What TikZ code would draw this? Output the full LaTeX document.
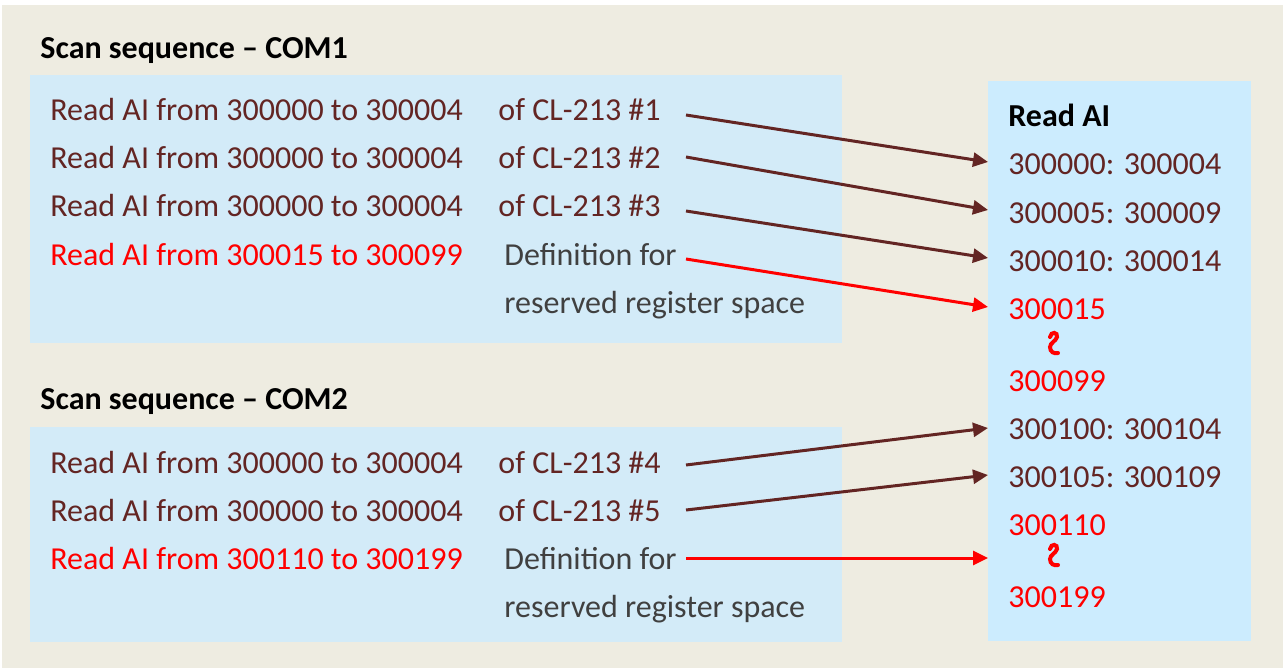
\documentclass[tikz,border=0pt]{standalone}
\usepackage{fontspec}
\setmainfont{Carlito}
\usetikzlibrary{arrows.meta}
\definecolor{bgbeige}{HTML}{EEECE1}
\definecolor{boxblue}{HTML}{D3EBF8}
\definecolor{rboxblue}{HTML}{CCECFE}
\definecolor{brown}{HTML}{632523}
\definecolor{graytxt}{HTML}{404040}
\definecolor{redtxt}{HTML}{FF0000}
\tikzset{
  txt/.style={anchor=base west, inner sep=0pt, font=\fontsize{16}{19}\selectfont},
  ttl/.style={txt, font=\fontsize{16}{19}\selectfont\bfseries, text=black},
  br/.style={txt, text=brown},
  gr/.style={txt, text=graytxt},
  rd/.style={txt, text=redtxt},
  arr/.style={line width=1.5pt, -{Triangle[length=7.5pt,width=7pt]}},
  brarr/.style={arr, draw=brown},
  rdarr/.style={arr, draw=redtxt},
  squig/.style={draw=redtxt, line width=2pt, line cap=round},
}
\begin{document}
\begin{tikzpicture}[x=0.5pt,y=-0.5pt]
\useasboundingbox (0,0) rectangle (1283,668);
\fill[white] (0,0) rectangle (1283,668);
\fill[bgbeige] (2,5) rectangle (1283,668);
\fill[boxblue] (30,75) rectangle (842,343);
\fill[boxblue] (30,427) rectangle (842,642);
\fill[rboxblue] (988,81) rectangle (1251,641);

% titles
\node[ttl] (t1) at (40,59) {Scan sequence -- COM1};
\node[ttl] (t2) at (40,409) {Scan sequence -- COM2};

% COM1 rows
\node[br] (l1) at (50,121) {Read AI from 300000 to 300004};
\node[br] (c1) at (498,121) {of CL-213 \#1};
\node[br] (l2) at (50,169) {Read AI from 300000 to 300004};
\node[br] (c2) at (498,169) {of CL-213 \#2};
\node[br] (l3) at (50,217) {Read AI from 300000 to 300004};
\node[br] (c3) at (498,217) {of CL-213 \#3};
\node[rd] (l4) at (50,265) {Read AI from 300015 to 300099};
\node[gr] (c4) at (504,265) {Definition for};
\node[gr] (c4b) at (504,313) {reserved register space};

% COM2 rows
\node[br] (m1) at (50,473) {Read AI from 300000 to 300004};
\node[br] (d1) at (498,473) {of CL-213 \#4};
\node[br] (m2) at (50,521) {Read AI from 300000 to 300004};
\node[br] (d2) at (498,521) {of CL-213 \#5};
\node[rd] (m3) at (50,569) {Read AI from 300110 to 300199};
\node[gr] (d3) at (504,569) {Definition for};
\node[gr] (d3b) at (504,617) {reserved register space};

% right box
\node[ttl] (rt) at (1008,127) {Read AI};
\node[br] (r1) at (1008,175) {300000: 300004};
\node[br] (r2) at (1008,223) {300005: 300009};
\node[br] (r3) at (1008,271) {300010: 300014};
\node[rd] (r4) at (1008,319) {300015};
\node[rd] (r5) at (1008,391) {300099};
\node[br] (r6) at (1008,439) {300100: 300104};
\node[br] (r7) at (1008,487) {300105: 300109};
\node[rd] (r8) at (1008,535) {300110};
\node[rd] (r9) at (1008,607) {300199};

\draw[squig] (1050,337) .. controls (1051,331) and (1058,332) .. (1057,337)
  .. controls (1056,341) and (1050,343) .. (1050,347)
  .. controls (1050,352) and (1054,354) .. (1058,353);
\draw[squig] (1050,549) .. controls (1051,543) and (1058,544) .. (1057,549)
  .. controls (1056,553) and (1050,555) .. (1050,559)
  .. controls (1050,564) and (1054,566) .. (1058,565);

% connector end points
\coordinate (s1) at (686,115); \coordinate (e1) at (988,162);
\coordinate (s2) at (686,157); \coordinate (e2) at (988,210);
\coordinate (s3) at (686,211); \coordinate (e3) at (988,258);
\coordinate (s4) at (686,259); \coordinate (e4) at (988,307);
\coordinate (s5) at (686,465); \coordinate (e5) at (988,428);
\coordinate (s6) at (686,510); \coordinate (e6) at (988,475);
\coordinate (s7) at (686,558); \coordinate (e7) at (988,558);

\draw[brarr] (s1) -- (e1);
\draw[brarr] (s2) -- (e2);
\draw[brarr] (s3) -- (e3);
\draw[rdarr] (s4) -- (e4);
\draw[brarr] (s5) -- (e5);
\draw[brarr] (s6) -- (e6);
\draw[rdarr] (s7) -- (e7);
\end{tikzpicture}
\end{document}
